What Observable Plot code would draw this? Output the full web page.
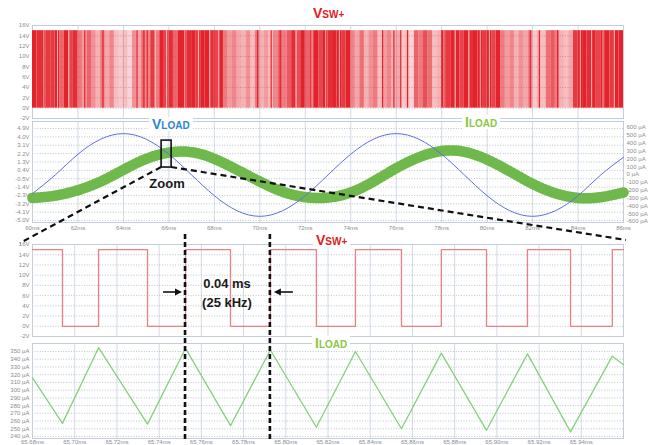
<!DOCTYPE html>
<html><head><meta charset="utf-8">
<script src="https://cdn.jsdelivr.net/npm/d3@7"></script>
<script src="https://cdn.jsdelivr.net/npm/@observablehq/plot@0.6"></script>
<style>
body{margin:0;background:#fff;}
#c{position:relative;width:656px;height:445px;overflow:hidden;font-family:"Liberation Sans",Arial,sans-serif;background:#fff;}
#c svg{position:absolute;left:0;}
.ttl{position:absolute;font-weight:bold;white-space:nowrap;line-height:1;background:#fff;padding:0 3px;}
.ann{position:absolute;font-weight:bold;white-space:nowrap;line-height:1;color:#1a1a1a;font-size:13px;}
</style></head><body><div id="c"></div>
<script>
// ---------- data ----------
// top panel: PWM switching voltage, apparent stripe density per 0.2 ms column (60..86 ms)
const pwmStartMs = 60;
const pwmColumnMs = 0.2;
const pwmHighV = 15;
const pwmDensity = [1,0.95,1,0.9, 0.9,1,0.7,1,0.85,0.95, 0.6,0.45,0.7,0.5,0.35,0.6,0.4,0.55,0.3, 0.25,0.3,0.2, 0.5,0.4,0.65,0.55, 0.9,0.6,1,0.85,0.95,0.7, 1,1,0.95,1,0.9,1,1,0.95,0.85,1, 0.6,0.45,0.55,0.4, 0.35,0.5,0.3,0.6,0.35,0.45,0.3,0.55, 0.7,0.6,0.75, 0.95,0.8,1,0.7,0.9,1,0.85,1,0.95, 1,1,0.9,1, 0.55,0.4,0.65,0.35,0.5,0.6,0.3,0.45,0.55,0.35,0.4, 0.25,0.3,0.2, 0.7,0.6,0.8,0.65, 0.3,0.35, 1,0.9,1,1,0.85,1,0.95,1,1,0.9,1,0.85,1, 0.6,0.45,0.55,0.35,0.5,0.4,0.55, 0.25,0.35,0.3, 0.65,0.75,0.6, 0.35,0.3,0.4, 0.9,1,1,0.95,1,0.85,1,1,0.9,1,1];
// thin light gaps inside dense regions and thin full pulses inside light regions (ms)
const pwmGapMs   = [60.5,61.1,61.6,65.4,65.9,66.7,67.3,67.8,68.2,71.6,72.3,72.9,73.5,78.1,78.6,79.2,79.7,80.1,84.1,84.6,85.1,85.6];
const pwmPulseMs = [62.3,63.1,64.6,64.9,65.05,69.9,70.5,70.9,75.4,75.9,76.2,76.5,81.9,82.3,83.1];

// second panel: load voltage and load current vs time (ms)
const loadTimeMs = [60,61,62,63,64,65,66,67,68,69,70,71,72,73,74,75,76,77,78,79,80,81,82,83,84,85,86];
const vLoadV     = [-2.1,-0.1,2.13,3.75,4.35,3.75,2.13,-0.1,-2.33,-3.95,-4.55,-3.95,-2.33,-0.1,2.13,3.75,4.35,3.75,2.13,-0.1,-2.33,-3.95,-4.55,-3.95,-2.33,-0.1,1.8];
const iLoadUA    = [-300,-270,-200,-90,60,200,280,285,200,60,-90,-220,-290,-295,-230,-90,80,220,300,290,190,40,-120,-240,-300,-290,-230];

// zoomed panels: switching voltage edges and load current ripple vertices
const swTimeMs  = [65.68,65.6942,65.7113,65.7345,65.7525,65.7738,65.7927,65.8145,65.8330,65.8548,65.8737,65.8951,65.9145,65.9349,65.9547,65.96];
const swLevelV  = [15,0,15,0,15,0,15,0,15,0,15,0,15,0,15,15];
const ripTimeMs = [65.68,65.6942,65.7113,65.7345,65.7525,65.7738,65.7927,65.8145,65.8330,65.8548,65.8737,65.8951,65.9145,65.9349,65.9547,65.96];
const ripUA     = [316,257,355,256,354,254,352,252,350,250,348,248,347,246,344,333];

// tick labels
const vTicksTop   = [16,14,12,10,8,6,4,2,0,-2];
const msTicks     = [60,62,64,66,68,70,72,74,76,78,80,82,84,86];
const vLoadTicks  = [4.9,4.0,3.1,2.2,1.3,0.4,-0.5,-1.4,-2.3,-3.2,-4.1,-5.0];
const iLoadTicks  = [600,500,400,300,200,100,0,-100,-200,-300,-400,-500,-600];
const zoomMsTicks = [65.68,65.70,65.72,65.74,65.76,65.78,65.80,65.82,65.84,65.86,65.88,65.90,65.92,65.94];
const ripTicks    = [350,340,330,320,310,300,290,280,270,260,250,240];

// annotation values
const zoomBox = {x1: 65.68, x2: 66.12, y1: 0.7, y2: 3.6};
const periodMarks = [65.7525, 65.7927];

// ---------- build ----------
const C = document.getElementById("c");
const FONT = "Liberation Sans, Arial, sans-serif";
const RED = "#e3232b", BLUE = "#5d6fe0";
const gridV = "#c4d1e0", gridH = "#a9b4c6";

function put(svg, top) { svg.style.top = top + "px"; C.appendChild(svg); return svg; }

function base(o) {
  return Plot.plot({
    width: 656, height: o.height,
    marginLeft: 32, marginRight: 33, marginTop: o.mt, marginBottom: o.mb,
    style: {fontSize: "6px", color: "#8d8d8d", background: "transparent", fontFamily: FONT, overflow: "visible"},
    x: {domain: o.xdom, ticks: o.xticks, tickFormat: o.xfmt, tickSize: 0, tickPadding: o.xpad ?? 3, axis: o.showX ? "bottom" : null, label: null},
    y: {domain: o.ydom, ticks: o.yticks, tickFormat: o.yfmt, tickSize: 0, tickPadding: 3, axis: o.yaxis === undefined ? "left" : o.yaxis, label: null},
    marks: o.marks
  });
}
function gridMarks(xt, yt) {
  return [
    Plot.ruleX(xt, {stroke: gridV, strokeWidth: 0.8}),
    Plot.ruleY(yt, {stroke: gridH, strokeWidth: 0.8, strokeDasharray: "1,1.6"}),
    Plot.frame({stroke: "#c3cddb", strokeWidth: 1})
  ];
}

// Panel 1: Vsw+ PWM
const pwmRows = pwmDensity.map((o, i) => ({t0: pwmStartMs + i * pwmColumnMs, t1: pwmStartMs + (i + 1) * pwmColumnMs, o}));
put(base({
  height: 122, mt: 25, mb: 4, xdom: [60, 86], ydom: [-2, 16],
  xticks: msTicks, yticks: vTicksTop, yfmt: d => d + "V", showX: false,
  marks: [
    ...gridMarks(msTicks, vTicksTop),
    Plot.rect(pwmRows, {x1: "t0", x2: "t1", y1: 0, y2: pwmHighV, fill: RED, fillOpacity: "o"}),
    Plot.ruleX(pwmGapMs, {y1: 0, y2: pwmHighV, stroke: "#fbe3e3", strokeWidth: 1, strokeOpacity: 0.75}),
    Plot.ruleX(pwmPulseMs, {y1: 0, y2: pwmHighV, stroke: RED, strokeWidth: 1.2})
  ]
}), 0);

// Panel 2: VLOAD (left axis) + ILOAD (right axis)
const loadRows = loadTimeMs.map((t, i) => ({t, v: vLoadV[i], i: iLoadUA[i]}));
const p2 = {height: 140, mt: 21, mb: 18, xdom: [60, 86]};
put(base({
  ...p2, ydom: [-5.215, 5.653], xticks: msTicks, xfmt: d => d + "ms", showX: true, xpad: 3,
  yticks: vLoadTicks, yfmt: d => d.toFixed(1) + "V",
  marks: gridMarks(msTicks, vLoadTicks)
}), 100);
put(base({
  ...p2, ydom: [-612.8, 676.6], xticks: msTicks, showX: false,
  yticks: iLoadTicks, yfmt: d => d + " µA", yaxis: "right",
  marks: [
    Plot.line(loadRows, {x: "t", y: "i", curve: "natural", stroke: "#b9e39b", strokeWidth: 10.5}),
    Plot.line(loadRows, {x: "t", y: "i", curve: "natural", stroke: "#56aa32", strokeWidth: 10.5, strokeDasharray: "1.6,2.4", strokeOpacity: 0.75})
  ]
}), 100);
put(base({
  ...p2, ydom: [-5.215, 5.653], xticks: msTicks, showX: false, yticks: vLoadTicks, yaxis: null,
  marks: [
    Plot.line(loadRows, {x: "t", y: "v", curve: "natural", stroke: BLUE, strokeWidth: 1}),
    Plot.rect([zoomBox], {x1: "x1", x2: "x2", y1: "y1", y2: "y2", fill: "none", stroke: "#111", strokeWidth: 1.6})
  ]
}), 100);

// Panel 3: zoomed Vsw+
const swRows = swTimeMs.map((t, i) => ({t, v: swLevelV[i]}));
put(base({
  height: 110, mt: 14, mb: 4, xdom: [65.68, 65.96], ydom: [-2, 16],
  xticks: zoomMsTicks, yticks: vTicksTop, yfmt: d => d + "V", showX: false,
  marks: [
    ...gridMarks(zoomMsTicks, vTicksTop),
    Plot.line(swRows, {x: "t", y: "v", curve: "step-after", stroke: "#ec7f86", strokeWidth: 1.3})
  ]
}), 230);

// Panel 4: zoomed ILOAD ripple
const ripRows = ripTimeMs.map((t, i) => ({t, v: ripUA[i]}));
put(base({
  height: 115, mt: 13, mb: 7, xdom: [65.68, 65.96], ydom: [237.4, 360.4],
  xticks: zoomMsTicks, xfmt: d => d.toFixed(2) + "ms", showX: true, xpad: 1,
  yticks: ripTicks, yfmt: d => d + " µA",
  marks: [
    ...gridMarks(zoomMsTicks, ripTicks),
    Plot.line(ripRows, {x: "t", y: "v", stroke: "#86d07c", strokeWidth: 1.3})
  ]
}), 330);

// ---------- titles ----------
function title(html, left, top, color, size) {
  const d = document.createElement("div");
  d.className = "ttl"; d.innerHTML = html;
  d.style.left = left + "px"; d.style.top = top + "px"; d.style.color = color; d.style.fontSize = size + "px";
  C.appendChild(d);
}
title('V<span style="font-size:10px">SW+</span>', 310, 6, "#e0201e", 14);
title('V<span style="font-size:10px">LOAD</span>', 149, 117, "#2b86cc", 14);
title('I<span style="font-size:10px">LOAD</span>', 462, 115, "#8dc63f", 14);
title('V<span style="font-size:10px">SW+</span>', 313, 233, "#e0201e", 14);
title('I<span style="font-size:10px">LOAD</span>', 312, 336, "#8dc63f", 14);

// ---------- annotation overlay ----------
const xTop = d3.scaleLinear([60, 86], [32, 623]);
const yV = d3.scaleLinear([-5.215, 5.653], [222, 121]);
const xBot = d3.scaleLinear([65.68, 65.96], [32, 623]);
const ov = d3.create("svg").attr("width", 656).attr("height", 445).style("top", "0px");
const bl = [xTop(zoomBox.x1), yV(zoomBox.y1)];
const br = [xTop(zoomBox.x2), yV(zoomBox.y1)];
ov.append("line").attr("x1", bl[0]).attr("y1", bl[1]).attr("x2", xBot(65.68) - 12).attr("y2", 243)
  .attr("stroke", "#111").attr("stroke-width", 2.2).attr("stroke-dasharray", "6,4");
ov.append("line").attr("x1", br[0]).attr("y1", br[1]).attr("x2", xBot(65.96) + 3).attr("y2", 240)
  .attr("stroke", "#111").attr("stroke-width", 2.2).attr("stroke-dasharray", "6,4");
for (const m of periodMarks) {
  ov.append("line").attr("x1", xBot(m)).attr("x2", xBot(m)).attr("y1", 234).attr("y2", 441)
    .attr("stroke", "#111").attr("stroke-width", 2.6).attr("stroke-dasharray", "5,3");
}
const ay = 292;
const a1 = xBot(periodMarks[0]) - 3, a2 = xBot(periodMarks[1]) + 4;
ov.append("line").attr("x1", a1 - 19).attr("x2", a1 - 5).attr("y1", ay).attr("y2", ay).attr("stroke", "#111").attr("stroke-width", 1.6);
ov.append("path").attr("d", `M${a1},${ay} L${a1 - 7},${ay - 3.5} L${a1 - 7},${ay + 3.5} Z`).attr("fill", "#111");
ov.append("line").attr("x1", a2 + 19).attr("x2", a2 + 5).attr("y1", ay).attr("y2", ay).attr("stroke", "#111").attr("stroke-width", 1.6);
ov.append("path").attr("d", `M${a2},${ay} L${a2 + 7},${ay - 3.5} L${a2 + 7},${ay + 3.5} Z`).attr("fill", "#111");
C.appendChild(ov.node());

function ann(txt, cx, cy) {
  const d = document.createElement("div");
  d.className = "ann"; d.textContent = txt;
  d.style.left = cx + "px"; d.style.top = cy + "px"; d.style.transform = "translate(-50%,-50%)";
  C.appendChild(d);
}
ann("Zoom", 167, 183);
ann("0.04 ms", 227, 283);
ann("(25 kHz)", 227, 302);
</script></body></html>
